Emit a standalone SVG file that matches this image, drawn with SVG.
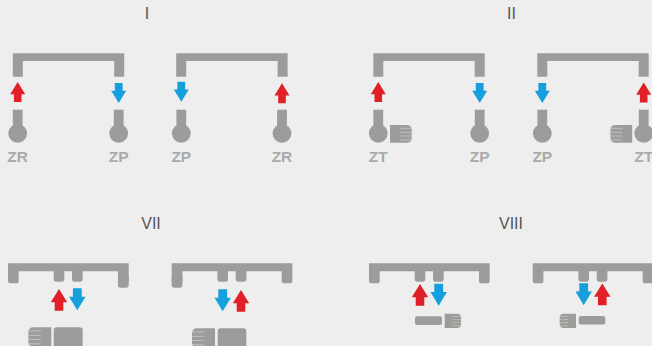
<svg xmlns="http://www.w3.org/2000/svg" width="652" height="346" viewBox="0 0 652 346">
<style>
.g{fill:#9d9c9a}
.t{font-family:"Liberation Sans",Arial,sans-serif;font-size:16px;fill:#555;text-anchor:middle}
.l{font-family:"Liberation Sans",Arial,sans-serif;font-size:15.5px;font-weight:bold;fill:#aaa;text-anchor:middle}
.v{stroke:#c9c9c7;stroke-width:.8;fill:none}
</style>
<defs>
<polygon id="up" fill="#e01f26" points="0,0 7.5,12.3 3.8,12.3 3.8,20 -3.8,20 -3.8,12.3 -7.5,12.3"/>
<polygon id="down" fill="#159fdc" points="0,20 7.5,7.7 3.9,7.7 3.9,0 -3.9,0 -3.9,7.7 -7.5,7.7"/>
<polygon id="upL" fill="#e01f26" points="0,0 8.2,13.3 4.3,13.3 4.3,21.7 -4.3,21.7 -4.3,13.3 -8.2,13.3"/>
<polygon id="downL" fill="#159fdc" points="0,22 8.2,8.4 4.4,8.4 4.4,0 -4.4,0 -4.4,8.4 -8.2,8.4"/>
<path id="bracket" class="g" d="M0,0H111.4V23.4H101.4V7.7H10V23.4H0Z"/>
<g id="probe"><rect class="g" x="-4.9" y="0" width="9.8" height="16"/><circle class="g" cx="0" cy="23.6" r="9.4"/></g>
<g id="valve"><path class="g" d="M0,0H16.7Q21.7,0 21.7,5V12.7Q21.7,17.7 16.7,17.7H0Z"/><path class="v" d="M10,3.3H21.7M10,7.3H21.7M10,11H21.7M10,15H21.7"/></g>
<path id="b2" class="g" d="M0,0H120.7V17.4A2.6,2.6 0 0 1 118,20H112.7A2.6,2.6 0 0 1 110,17.4V8H74.7V15.8A2.6,2.6 0 0 1 72,18.4H66.7A2.6,2.6 0 0 1 64,15.8V8H56.3V15.8A2.6,2.6 0 0 1 53.7,18.4H48.3A2.6,2.6 0 0 1 45.7,15.8V8H10.7V17.4A2.6,2.6 0 0 1 8,20H2.6A2.6,2.6 0 0 1 0,17.4Z"/>
</defs>
<rect width="652" height="346" fill="#eeeeee"/>
<g id="connectors">
<use href="#up" x="17.7" y="82"/><use href="#down" x="118.7" y="83"/>
<use href="#down" x="181.3" y="81.7"/><use href="#up" x="282" y="83.3"/>
<use href="#up" x="378.3" y="82"/><use href="#down" x="479.7" y="83"/>
<use href="#down" x="542.3" y="83"/><use href="#up" x="643.7" y="82.5"/>
<use href="#upL" x="59" y="289"/><use href="#downL" x="77.3" y="288.3"/>
<use href="#downL" x="222.7" y="289.3"/><use href="#upL" x="241" y="290"/>
<use href="#upL" x="420" y="284"/><use href="#downL" x="438.7" y="283.7"/>
<use href="#downL" x="583.7" y="283.2"/><use href="#upL" x="602.3" y="283.5"/>
</g>
<g id="title-I"><text class="t" x="147" y="19">I</text></g>
<g id="title-II"><text class="t" x="511.5" y="19">II</text></g>
<g id="title-VII"><text class="t" x="151" y="229">VII</text></g>
<g id="title-VIII"><text class="t" x="511" y="229">VIII</text></g>
<g id="I-a"><use href="#bracket" x="12.8" y="53.3"/><use href="#probe" x="17.7" y="109.7"/><use href="#probe" x="118.7" y="109.7"/>
<text class="l" x="17.7" y="161.7">ZR</text><text class="l" x="118.7" y="161.7">ZP</text></g>
<g id="I-b"><use href="#bracket" x="176.2" y="53.3"/><use href="#probe" x="181.3" y="109.7"/><use href="#probe" x="282" y="109.7"/>
<text class="l" x="181.3" y="161.7">ZP</text><text class="l" x="282" y="161.7">ZR</text></g>
<g id="II-a"><use href="#bracket" x="373.3" y="53.3"/><use href="#probe" x="378.3" y="109.7"/><use href="#probe" x="479.7" y="109.7"/>
<use href="#valve" x="390" y="125"/>
<text class="l" x="378.3" y="161.7">ZT</text><text class="l" x="479.7" y="161.7">ZP</text></g>
<g id="II-b"><use href="#bracket" x="537.3" y="53.3"/><use href="#probe" x="542.3" y="109.7"/><use href="#probe" x="643.7" y="109.7"/>
<use href="#valve" transform="translate(632.2,125) scale(-1,1)"/>
<text class="l" x="542.3" y="161.7">ZP</text><text class="l" x="643.7" y="161.7">ZT</text></g>
<g id="VII-a"><use href="#b2" x="8" y="263.3"/><rect class="g" x="118" y="275" width="10.7" height="12.7" rx="2.6"/>
<use href="#valve" transform="translate(51.3,327.3) scale(-1.06,1.1)"/><rect class="g" x="53.7" y="327.2" width="29" height="24" rx="3"/></g>
<g id="VII-b"><use href="#b2" x="171.7" y="263.3"/><rect class="g" x="171.7" y="275" width="10.7" height="12.7" rx="2.6"/>
<use href="#valve" transform="translate(215,328.3) scale(-1.06,1.1)"/><rect class="g" x="217.7" y="328.3" width="28.6" height="24" rx="3"/></g>
<g id="VIII-a"><use href="#b2" x="369" y="263.3"/>
<rect class="g" x="415" y="316.3" width="27" height="8.7" rx="2"/><use href="#valve" transform="translate(444.7,313.7) scale(.75,.81)"/></g>
<g id="VIII-b"><use href="#b2" x="532.7" y="263.3"/>
<use href="#valve" transform="translate(576,313.7) scale(-.75,.81)"/><rect class="g" x="578.7" y="316" width="26.6" height="8.4" rx="2"/></g>
</svg>
